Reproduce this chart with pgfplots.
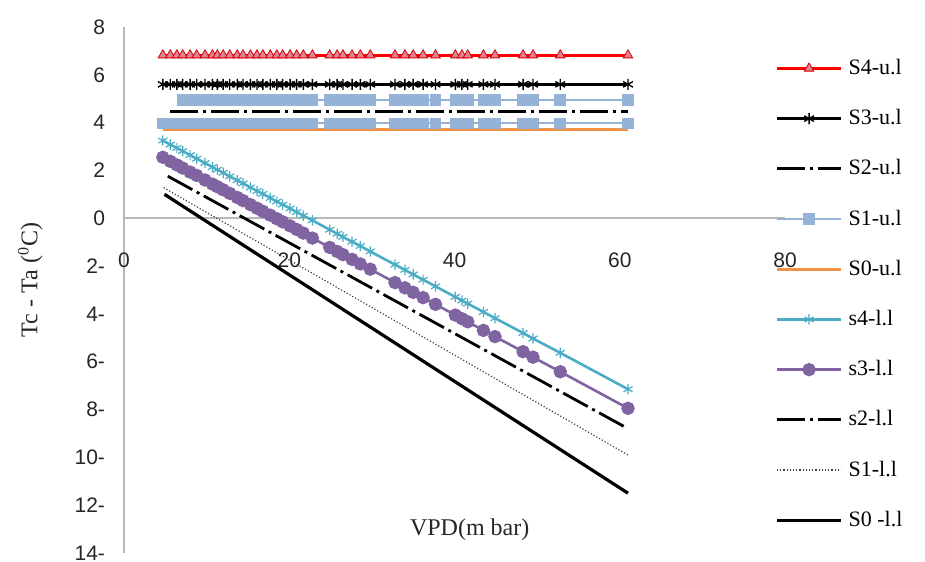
\documentclass[border=0pt]{standalone}
\usepackage{pgfplots}
\pgfplotsset{compat=1.18}
\usepackage{pgfplotstable}
\usepackage{fontspec}
\setmainfont{Liberation Serif}
\setsansfont{Liberation Sans}
\definecolor{lblue}{RGB}{149,179,215}
\definecolor{xorange}{RGB}{240,145,70}
\definecolor{xteal}{RGB}{75,172,198}
\definecolor{xpurple}{RGB}{128,100,162}
\definecolor{pinkfill}{RGB}{225,130,150}

\pgfplotstableread{
x    s4u  s3u  s1u  lowb  s4l   s3l
4.7  6.82 5.6  4.95 3.97  3.25  2.55
5.6  6.82 5.6  4.95 3.97  3.08  2.38
6.4  6.82 5.6  4.95 3.97  2.94  2.23
7.1  6.82 5.6  4.95 3.97  2.81  2.10
8.0  6.82 5.6  4.95 3.97  2.64  1.93
8.8  6.82 5.6  4.95 3.97  2.49  1.79
9.8  6.82 5.6  4.95 3.97  2.31  1.60
10.7 6.82 5.6  4.95 3.97  2.14  1.43
11.3 6.82 5.6  4.95 3.97  2.03  1.32
12.0 6.82 5.6  4.95 3.97  1.90  1.19
12.8 6.82 5.6  4.95 3.97  1.75  1.04
13.7 6.82 5.6  4.95 3.97  1.59  0.87
14.4 6.82 5.6  4.95 3.97  1.46  0.74
15.3 6.82 5.6  4.95 3.97  1.29  0.57
16.1 6.82 5.6  4.95 3.97  1.14  0.42
16.8 6.82 5.6  4.95 3.97  1.02  0.29
17.7 6.82 5.6  4.95 3.97  0.85  0.13
18.5 6.82 5.6  4.95 3.97  0.70  -0.02
19.2 6.82 5.6  4.95 3.97  0.57  -0.15
20.1 6.82 5.6  4.95 3.97  0.41  -0.32
20.9 6.82 5.6  4.95 3.97  0.26  -0.47
21.7 6.82 5.6  4.95 3.97  0.11  -0.62
22.8 6.82 5.6  4.95 3.97  -0.09 -0.83
24.9 6.82 5.6  4.95 3.97  -0.48 -1.22
25.8 6.82 5.6  4.95 3.97  -0.65 -1.39
26.5 6.82 5.6  4.95 3.97  -0.78 -1.52
27.6 6.82 5.6  4.95 3.97  -0.98 -1.72
28.6 6.82 5.6  4.95 3.97  -1.16 -1.91
29.8 6.82 5.6  4.95 3.97  -1.39 -2.13
32.8 6.82 5.6  4.95 3.97  -1.94 -2.69
34.0 6.82 5.6  4.95 3.97  -2.16 -2.91
35.0 6.82 5.6  4.95 3.97  -2.35 -3.10
36.2 6.82 5.6  4.95 3.97  -2.57 -3.32
37.7 6.82 5.6  4.95 3.97  -2.85 -3.60
40.1 6.82 5.6  4.95 3.97  -3.29 -4.05
40.9 6.82 5.6  4.95 3.97  -3.44 -4.20
41.6 6.82 5.6  4.95 3.97  -3.57 -4.33
43.5 6.82 5.6  4.95 3.97  -3.92 -4.69
44.9 6.82 5.6  4.95 3.97  -4.18 -4.95
48.3 6.82 5.6  4.95 3.97  -4.80 -5.58
49.5 6.82 5.6  4.95 3.97  -5.03 -5.81
52.8 6.82 5.6  4.95 3.97  -5.63 -6.42
61.0 6.82 5.6  4.95 3.97  -7.15 -7.95
}\datatab

\begin{document}
\begin{tikzpicture}
\begin{axis}[
  scale only axis, width=330.5pt, height=263pt,
  xmin=0, xmax=80, ymin=-14, ymax=8,
  clip=false,
  axis x line=middle, axis y line=left,
  axis line style={-, draw=black!28, line width=0.8pt},
  hide obscured x ticks=false, hide obscured y ticks=false,
  xtick={0,20,40,60,80}, xticklabels={0,20,40,60,80},
  ytick={-14,-12,-10,-8,-6,-4,-2,0,2,4,6,8},
  yticklabels={14-,12-,10-,8-,6-,4-,2-,0,2,4,6,8},
  major tick length=0pt,
  tick label style={font=\sffamily\fontsize{10.5}{12}\selectfont, text=black!85},
  xticklabel style={yshift=-14pt},
  yticklabel style={xshift=-6pt},
  xlabel={VPD(m bar)},
  ylabel={Tc - Ta (\textsuperscript{0}C)},
  label style={font=\fontsize{12}{14}\selectfont, text=black!85},
  xlabel style={at={(rel axis cs:0.523,0.045)}, anchor=center},
  ylabel style={at={(rel axis cs:-0.142,0.519)}, anchor=center},
  legend cell align=left,
  legend style={at={(rel axis cs:0.985,0.941)}, anchor=north west,
    draw=none, fill=none, inner sep=0pt, row sep=15.1pt, column sep=3pt,
    font=\fontsize{11}{13}\selectfont,
    nodes={inner sep=0pt, text height=8pt, text depth=2pt}},
  legend image code/.code={\draw[mark repeat=2,mark phase=2] plot coordinates {(0pt,0pt) (16pt,0pt) (32pt,0pt)};},
]
\coordinate (BL) at (rel axis cs:-0.1876,-0.0171);
\coordinate (TR) at (rel axis cs:1.2118,1.0513);

\addplot[red, line width=1.6pt, mark=triangle*, mark size=2.7pt,
  mark options={fill=pinkfill, draw=red!85!black, line width=0.4pt, solid}] table[x=x, y=s4u] {\datatab};
\addlegendentry{S4-u.l}

\addplot[black, line width=1.5pt, mark=asterisk, mark size=2.8pt,
  mark options={black, line width=0.7pt, solid}] table[x=x, y=s3u] {\datatab};
\addlegendentry{S3-u.l}

\addplot[black, line width=1.6pt, dash pattern=on 14pt off 2.5pt on 1.5pt off 2.5pt] coordinates {(5.6,4.48) (61,4.48)};
\addlegendentry{S2-u.l}

\addplot[lblue, line width=1.0pt, mark=square*, mark size=2.4pt,
  mark options={fill=lblue, draw=lblue, solid}, restrict x to domain=7:62] table[x=x, y=s1u] {\datatab};
\addlegendentry{S1-u.l}

\addplot[forget plot, lblue, line width=1.0pt, mark=square*, mark size=2.4pt,
  mark options={fill=lblue, draw=lblue, solid}] table[x=x, y=lowb] {\datatab};

\addplot[xorange, line width=1.6pt] coordinates {(4.7,3.72) (61,3.72)};
\addlegendentry{S0-u.l}

\addplot[xteal, line width=1.3pt, mark=asterisk, mark size=2.6pt,
  mark options={xteal, line width=0.6pt, solid}] table[x=x, y=s4l] {\datatab};
\addlegendentry{s4-l.l}

\addplot[xpurple, line width=1.3pt, mark=*, mark size=2.7pt,
  mark options={fill=xpurple, draw=xpurple, solid}] table[x=x, y=s3l] {\datatab};
\addlegendentry{s3-l.l}

\addplot[black, line width=1.4pt, dash pattern=on 14pt off 2.5pt on 1.5pt off 2.5pt] coordinates {(5.3,1.76) (61,-8.8)};
\addlegendentry{s2-l.l}

\addplot[black!75, line width=0.6pt, densely dotted] coordinates {(4.8,1.28) (61,-9.9)};
\addlegendentry{S1-l.l}

\addplot[black, line width=1.6pt] coordinates {(4.9,1.0) (61,-11.5)};
\addlegendentry{S0 -l.l}
\end{axis}
\pgfresetboundingbox
\path[use as bounding box] (BL) rectangle (TR);
\end{tikzpicture}
\end{document}
